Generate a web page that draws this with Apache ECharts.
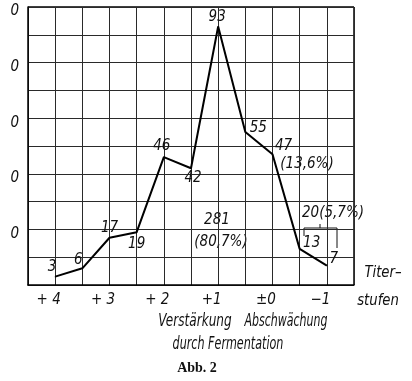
<!DOCTYPE html>
<html>
<head>
<meta charset="utf-8">
<script src="https://cdn.jsdelivr.net/npm/echarts@6/dist/echarts.min.js"></script>
<style>
html,body{margin:0;padding:0;background:#fff;}
#c{width:412px;height:381px;}
</style>
</head>
<body>
<div id="c"></div>
<script>
// ---- data ----
const titerSteps = [4, 3.5, 3, 2.5, 2, 1.5, 1, 0.5, 0, -0.5, -1];
const counts = [3, 6, 17, 19, 46, 42, 93, 55, 47, 13, 7];
const xTickValues = [4, 3, 2, 1, 0, -1];
const xTickLabels = ['+ 4', '+ 3', '+ 2', '+1', '\u00b10', '\u22121'];
const yTickValues = [20, 40, 60, 80, 100];
const yTickLabels = ['0', '0', '0', '0', '0'];

// ---- styling ----
const FONT = '"Liberation Sans Narrow", "DejaVu Sans Condensed", sans-serif';
const labelOffsets = [[-3,-10],[-4,-8],[0,-10],[0,12],[-2,-11],[2,10],[-1,-9],[13,-4],[11,-8],[12,-6],[7,-6]];

const chart = echarts.init(document.getElementById('c'), null, {renderer: 'canvas'});

const seriesData = titerSteps.map((x, i) => ({
  value: [x, counts[i]],
  label: {offset: labelOffsets[i]}
}));

function italicText(text, x, y, size, sx) {
  return {
    type: 'text', x: x, y: y, silent: true, scaleX: sx || 1,
    style: {
      text: text, fill: '#111',
      font: 'italic ' + (size || 15) + 'px ' + FONT,
      align: 'center', verticalAlign: 'middle',
      textAlign: 'center', textVerticalAlign: 'middle'
    }
  };
}

const option = {
  backgroundColor: '#fff',
  animation: false,
  grid: {left: 28, top: 7, width: 326, height: 278, outerBoundsMode: 'none', containLabel: false},
  xAxis: {
    type: 'value', inverse: true, min: -1.5, max: 4.5, interval: 0.5,
    axisLine: {show: true, onZero: false, lineStyle: {color: '#000', width: 1.5}},
    axisTick: {show: false},
    splitLine: {show: true, lineStyle: {color: '#2a2a2a', width: 1}},
    axisLabel: {
      margin: 8, color: '#111', fontStyle: 'italic', fontSize: 15, fontFamily: FONT,
      padding: [0, 13, 0, 0],
      formatter: function (v) {
        const k = xTickValues.findIndex(t => Math.abs(t - v) < 1e-9);
        return k >= 0 ? xTickLabels[k] : '';
      }
    }
  },
  yAxis: {
    type: 'value', min: 0, max: 100, interval: 10,
    axisLine: {show: true, onZero: false, lineStyle: {color: '#000', width: 1.5}},
    axisTick: {show: false},
    splitLine: {show: true, lineStyle: {color: '#2a2a2a', width: 1}},
    axisLabel: {
      margin: 9, color: '#111', fontStyle: 'italic', fontSize: 15, fontFamily: FONT,
      verticalAlign: 'top', lineHeight: 9,
      formatter: function (v) {
        const k = yTickValues.indexOf(v);
        return k >= 0 ? yTickLabels[k] : '';
      }
    }
  },
  series: [{
    type: 'line',
    data: seriesData,
    symbol: 'circle', symbolSize: 1, showSymbol: true,
    itemStyle: {color: '#000'},
    lineStyle: {color: '#000', width: 2},
    label: {
      show: true, position: 'inside', color: '#111',
      fontStyle: 'italic', fontSize: 15, fontFamily: FONT,
      align: 'center', verticalAlign: 'middle',
      formatter: function (p) { return String(p.value[1]); }
    }
  }],
  graphic: [
    {type: 'line', shape: {x1: 354, y1: 7, x2: 354, y2: 285}, style: {stroke: '#000', lineWidth: 1.5}, silent: true},
    {type: 'line', shape: {x1: 28, y1: 7, x2: 354, y2: 7}, style: {stroke: '#000', lineWidth: 1.5}, silent: true},
    italicText('281', 217, 220),
    italicText('(80,7%)', 221, 242),
    italicText('(13,6%)', 307, 164),
    italicText('20(5,7%)', 333, 213),
    {type: 'polyline', silent: true, shape: {points: [[304, 236], [304, 228], [337, 228], [337, 248]]}, style: {stroke: '#111', lineWidth: 1, fill: null}},
    {type: 'line', silent: true, shape: {x1: 320, y1: 228, x2: 320, y2: 224}, style: {stroke: '#111', lineWidth: 1}},
    italicText('Titer\u2013', 383, 273, 16, 0.92),
    italicText('stufen', 378, 301, 16, 0.92),
    italicText('Verst\u00e4rkung', 195, 322, 17, 0.79),
    italicText('Abschw\u00e4chung', 286, 322, 17, 0.72),
    italicText('durch Fermentation', 228, 345, 17, 0.73),
    {type: 'text', x: 197, y: 368, silent: true,
     style: {text: 'Abb. 2', fill: '#111', font: 'bold 14px "Liberation Serif", "DejaVu Serif", serif',
             align: 'center', verticalAlign: 'middle', textAlign: 'center', textVerticalAlign: 'middle'}}
  ]
};
chart.setOption(option);
</script>
</body>
</html>
